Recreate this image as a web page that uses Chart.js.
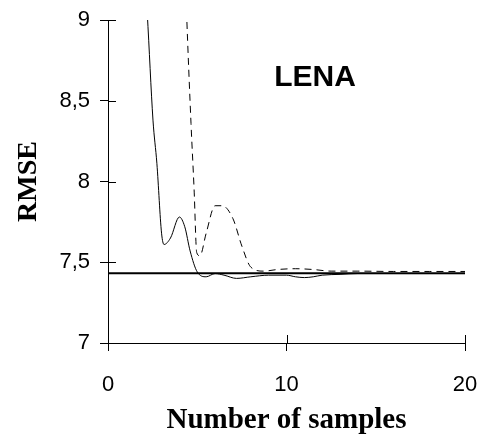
<!DOCTYPE html>
<html>
<head>
<meta charset="utf-8">
<script src="https://cdn.jsdelivr.net/npm/chart.js@4"></script>
<style>
  body { margin: 0; background: #fff; }
  #wrap { width: 484px; height: 438px; }
</style>
</head>
<body>
<div id="wrap"><canvas id="myChart"></canvas></div>
<script>
  const solidX = [2, 2.2, 2.52, 2.74, 3.0, 3.14, 3.5, 4.0, 4.3, 4.6, 5.0, 5.5, 6.0, 6.5, 7.2, 8.0, 9, 10, 10.5, 11, 11.5, 12, 13, 14, 15, 16, 17, 18, 19, 20];
  const solidY = [9.4, 9.04, 8.38, 8.11, 7.68, 7.61, 7.65, 7.78, 7.72, 7.57, 7.44, 7.41, 7.43, 7.42, 7.40, 7.41, 7.42, 7.42, 7.41, 7.405, 7.41, 7.42, 7.425, 7.43, 7.43, 7.43, 7.43, 7.43, 7.43, 7.43];
  const dashX = [4, 4.4, 4.65, 4.82, 4.97, 5.15, 5.5, 6.0, 6.4, 7.0, 7.5, 8.0, 8.7, 9.5, 10.5, 11.5, 12.5, 14, 16, 18, 20];
  const dashY = [10.4, 9.05, 8.36, 7.96, 7.56, 7.54, 7.68, 7.85, 7.85, 7.77, 7.6, 7.47, 7.445, 7.455, 7.46, 7.455, 7.445, 7.445, 7.443, 7.443, 7.443];
  const refX = [0, 20];
  const refY = [7.432, 7.432];
  const yTicks = [7, 7.5, 8, 8.5, 9];
  const xTicks = [0, 10, 20];

  const pts = (xs, ys) => xs.map((x, i) => ({ x: x, y: ys[i] }));

  // ticks in the original cross the axis, so draw the inner half too
  const innerTicks = {
    id: 'innerTicks',
    afterDraw(chart) {
      const c = chart.ctx, xs = chart.scales.x, ys = chart.scales.y;
      c.save();
      c.strokeStyle = '#000';
      c.lineWidth = 1;
      c.beginPath();
      yTicks.forEach(v => {
        const py = Math.round(ys.getPixelForValue(v)) + 0.5;
        c.moveTo(xs.left, py); c.lineTo(xs.left + 8, py);
      });
      xTicks.forEach(v => {
        const px = Math.round(xs.getPixelForValue(v)) + 0.5;
        c.moveTo(px, ys.bottom); c.lineTo(px, ys.bottom - 8);
      });
      c.stroke();
      c.font = 'bold 30px "Liberation Sans", Arial, sans-serif';
      c.fillStyle = '#000';
      c.textAlign = 'center';
      c.textBaseline = 'middle';
      c.fillText('LENA', xs.getPixelForValue(11.6), ys.getPixelForValue(8.64));
      c.restore();
    }
  };

  new Chart(document.getElementById('myChart'), {
    type: 'scatter',
    data: {
      datasets: [{
        data: pts(refX, refY),
        showLine: true,
        borderColor: '#000',
        borderWidth: 2,
        pointRadius: 0
      }, {
        data: pts(solidX, solidY),
        showLine: true,
        borderColor: '#000',
        borderWidth: 1,
        pointRadius: 0,
        cubicInterpolationMode: 'monotone'
      }, {
        data: pts(dashX, dashY),
        showLine: true,
        borderColor: '#000',
        borderWidth: 1,
        borderDash: [7, 5],
        pointRadius: 0,
        cubicInterpolationMode: 'monotone'
      }]
    },
    options: {
      responsive: true,
      maintainAspectRatio: false,
      animation: false,
      layout: { padding: { top: 20, right: 19, left: 0, bottom: 0 } },
      plugins: { legend: { display: false }, tooltip: { enabled: false } },
      scales: {
        x: {
          type: 'linear',
          min: 0, max: 20,
          afterBuildTicks: s => { s.ticks = xTicks.map(v => ({ value: v })); },
          afterFit: s => { s.height = 95; s.paddingLeft = 0; s.paddingRight = 0; },
          border: { color: '#000', width: 1 },
          grid: { drawOnChartArea: false, color: '#000', tickLength: 8 },
          ticks: { color: '#000', padding: 21, font: { family: '"Liberation Sans", Arial', size: 22 } },
          title: {
            display: true, text: 'Number of samples', color: '#000',
            font: { family: '"Liberation Serif", "Times New Roman"', size: 29, weight: 'bold' },
            padding: { top: 4, bottom: 0 }
          }
        },
        y: {
          type: 'linear',
          min: 7, max: 9,
          afterBuildTicks: s => { s.ticks = yTicks.map(v => ({ value: v })); },
          afterFit: s => { s.width = 108; s.paddingTop = 0; s.paddingBottom = 0; },
          border: { color: '#000', width: 1 },
          grid: { drawOnChartArea: false, color: '#000', tickLength: 8 },
          ticks: {
            color: '#000', padding: 10,
            font: { family: '"Liberation Sans", Arial', size: 22 },
            callback: v => Number.isInteger(v) ? String(v) : v.toFixed(1).replace('.', ',')
          },
          title: {
            display: true, text: 'RMSE', color: '#000',
            font: { family: '"Liberation Serif", "Times New Roman"', size: 28, weight: 'bold' },
            padding: { bottom: 0, top: 12 }
          }
        }
      }
    },
    plugins: [innerTicks]
  });
</script>
</body>
</html>
